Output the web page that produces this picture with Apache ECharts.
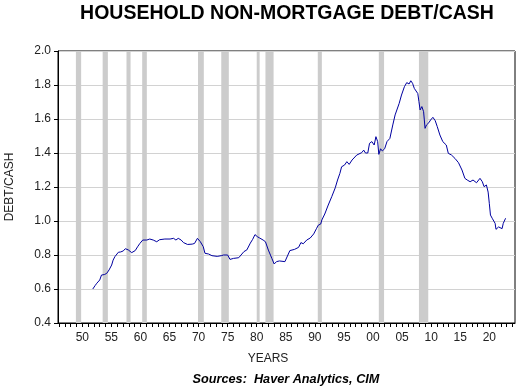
<!DOCTYPE html>
<html>
<head>
<meta charset="utf-8">
<script src="https://cdn.jsdelivr.net/npm/echarts@6/dist/echarts.min.js"></script>
<style>html,body{margin:0;padding:0;background:#fff;}#c{width:519px;height:390px;}</style>
</head>
<body>
<div id="c"></div>
<script>
const years = [1951.8,1952.2,1952.5,1953.0,1953.3,1953.8,1954.2,1954.6,1955.05,1955.3,1955.6,1956.2,1956.6,1957.05,1957.4,1957.9,1958.5,1959.1,1959.5,1959.9,1960.4,1961.1,1961.6,1962.2,1962.8,1963.3,1964.2,1965.1,1965.7,1966.1,1966.5,1967.0,1967.4,1967.7,1968.1,1968.9,1969.3,1969.8,1970.3,1970.8,1971.1,1971.7,1972.3,1973.2,1973.9,1974.3,1974.6,1975.0,1975.4,1976.0,1976.9,1977.2,1977.8,1978.3,1978.9,1979.3,1979.7,1980.1,1980.5,1981.1,1981.5,1982.0,1982.6,1983.0,1983.4,1983.9,1984.85,1985.7,1986.5,1987.2,1987.6,1988.0,1988.6,1989.2,1989.8,1990.3,1990.6,1991.0,1991.2,1991.7,1992.3,1992.9,1993.5,1993.9,1994.3,1994.6,1995.1,1995.5,1995.9,1996.4,1997.2,1998.05,1998.4,1998.7,1999.1,1999.4,1999.8,2000.2,2000.5,2000.8,2001.0,2001.3,2001.6,2002.0,2002.4,2002.9,2003.4,2003.8,2004.1,2004.5,2004.9,2005.4,2005.8,2006.2,2006.5,2006.8,2007.1,2007.4,2007.7,2007.9,2008.1,2008.4,2008.7,2008.95,2009.2,2009.6,2009.9,2010.3,2010.7,2011.05,2011.5,2012.0,2012.6,2012.95,2013.5,2014.1,2014.7,2015.3,2015.8,2016.2,2016.7,2017.2,2017.8,2018.4,2018.8,2019.1,2019.5,2019.8,2020.0,2020.2,2020.5,2021.0,2021.15,2021.6,2021.9,2022.2,2022.4,2022.8];
const debtCash = [0.600,0.620,0.634,0.653,0.682,0.685,0.692,0.712,0.741,0.770,0.790,0.816,0.818,0.824,0.837,0.830,0.814,0.826,0.848,0.868,0.888,0.888,0.894,0.888,0.878,0.890,0.894,0.894,0.898,0.888,0.898,0.888,0.873,0.868,0.862,0.864,0.868,0.898,0.878,0.849,0.810,0.806,0.796,0.792,0.796,0.800,0.792,0.800,0.774,0.780,0.784,0.792,0.820,0.830,0.870,0.892,0.920,0.908,0.900,0.888,0.878,0.829,0.780,0.747,0.761,0.765,0.761,0.826,0.833,0.845,0.873,0.866,0.888,0.900,0.924,0.957,0.976,0.982,1.006,1.041,1.094,1.143,1.195,1.241,1.280,1.319,1.329,1.349,1.333,1.359,1.388,1.402,1.417,1.400,1.400,1.457,1.467,1.447,1.496,1.467,1.392,1.425,1.412,1.425,1.467,1.486,1.565,1.624,1.653,1.692,1.741,1.790,1.814,1.806,1.825,1.810,1.780,1.790,1.750,1.702,1.653,1.673,1.643,1.545,1.565,1.578,1.594,1.610,1.590,1.555,1.506,1.467,1.447,1.398,1.388,1.368,1.343,1.300,1.251,1.241,1.231,1.241,1.225,1.251,1.231,1.202,1.212,1.170,1.104,1.035,1.016,0.986,0.951,0.965,0.960,0.955,0.986,1.016];
const recessionStart = [1948.9,1953.5,1957.6,1960.3,1969.9,1973.9,1980.0,1981.5,1990.5,2001.0,2007.9];
const recessionEnd   = [1949.8,1954.4,1958.3,1961.1,1970.9,1975.2,1980.5,1982.9,1991.2,2001.9,2009.5];
const xLabelYears = [1950,1955,1960,1965,1970,1975,1980,1985,1990,1995,2000,2005,2010,2015,2020];
const xTickYears = [];
for (let y = 1946; y <= 2024; y++) xTickYears.push(y);

const chart = echarts.init(document.getElementById('c'), null, {renderer:'canvas'});
const font = '"Liberation Sans", Arial, sans-serif';
const option = {
  animation: false,
  backgroundColor: '#fff',
  grid: {left: 58, top: 51, right: 4, bottom: 67, show: true, borderColor: '#000', borderWidth: 1, backgroundColor: 'transparent', containLabel: false, outerBoundsMode: 'none'},
  xAxis: {
    type: 'value', min: 1945.82, max: 2024.42,
    splitLine: {show: false},
    axisLine: {show: true, lineStyle: {color: '#000', width: 1}},
    axisTick: {show: true, inside: false, length: 4, customValues: xTickYears, lineStyle: {color: '#000'}},
    axisLabel: {customValues: xLabelYears, color: '#222', fontFamily: font, fontSize: 12, margin: 9,
      formatter: v => String(Math.round(v) % 100).padStart(2, '0')}
  },
  yAxis: {
    type: 'value', min: 0.4, max: 2.0, interval: 0.2,
    name: 'DEBT/CASH', nameLocation: 'middle', nameGap: 42, nameRotate: 90,
    nameTextStyle: {color: '#222', fontFamily: font, fontSize: 12},
    splitLine: {show: true, lineStyle: {color: '#d2d2d2', width: 1}},
    axisLine: {show: true, lineStyle: {color: '#000'}},
    axisTick: {show: true, inside: false, length: 4, lineStyle: {color: '#000'}},
    axisLabel: {color: '#222', fontFamily: font, fontSize: 12, margin: 7, formatter: v => v.toFixed(1)}
  },
  graphic: [
    {type: 'text', x: 287, y: 14, style: {text: 'HOUSEHOLD NON-MORTGAGE DEBT/CASH', fill: '#000', font: 'bold 19.5px ' + font, textAlign: 'center', textVerticalAlign: 'middle'}},
    {type: 'text', x: 268, y: 359, style: {text: 'YEARS', fill: '#222', font: '12px ' + font, textAlign: 'center', textVerticalAlign: 'middle'}},
    {type: 'text', x: 286, y: 379, style: {text: 'Sources:  Haver Analytics, CIM', fill: '#000', font: 'italic bold 12.7px ' + font, textAlign: 'center', textVerticalAlign: 'middle'}}
  ],
  series: [{
    type: 'line',
    data: years.map((y, i) => [y, debtCash[i]]),
    showSymbol: false,
    lineStyle: {color: '#0000a0', width: 1},
    z: 3,
    markArea: {
      silent: true,
      itemStyle: {color: '#cccccc', opacity: 1},
      data: recessionStart.map((s, i) => [{xAxis: s}, {xAxis: recessionEnd[i]}])
    }
  }]
};
chart.setOption(option);
</script>
</body>
</html>
